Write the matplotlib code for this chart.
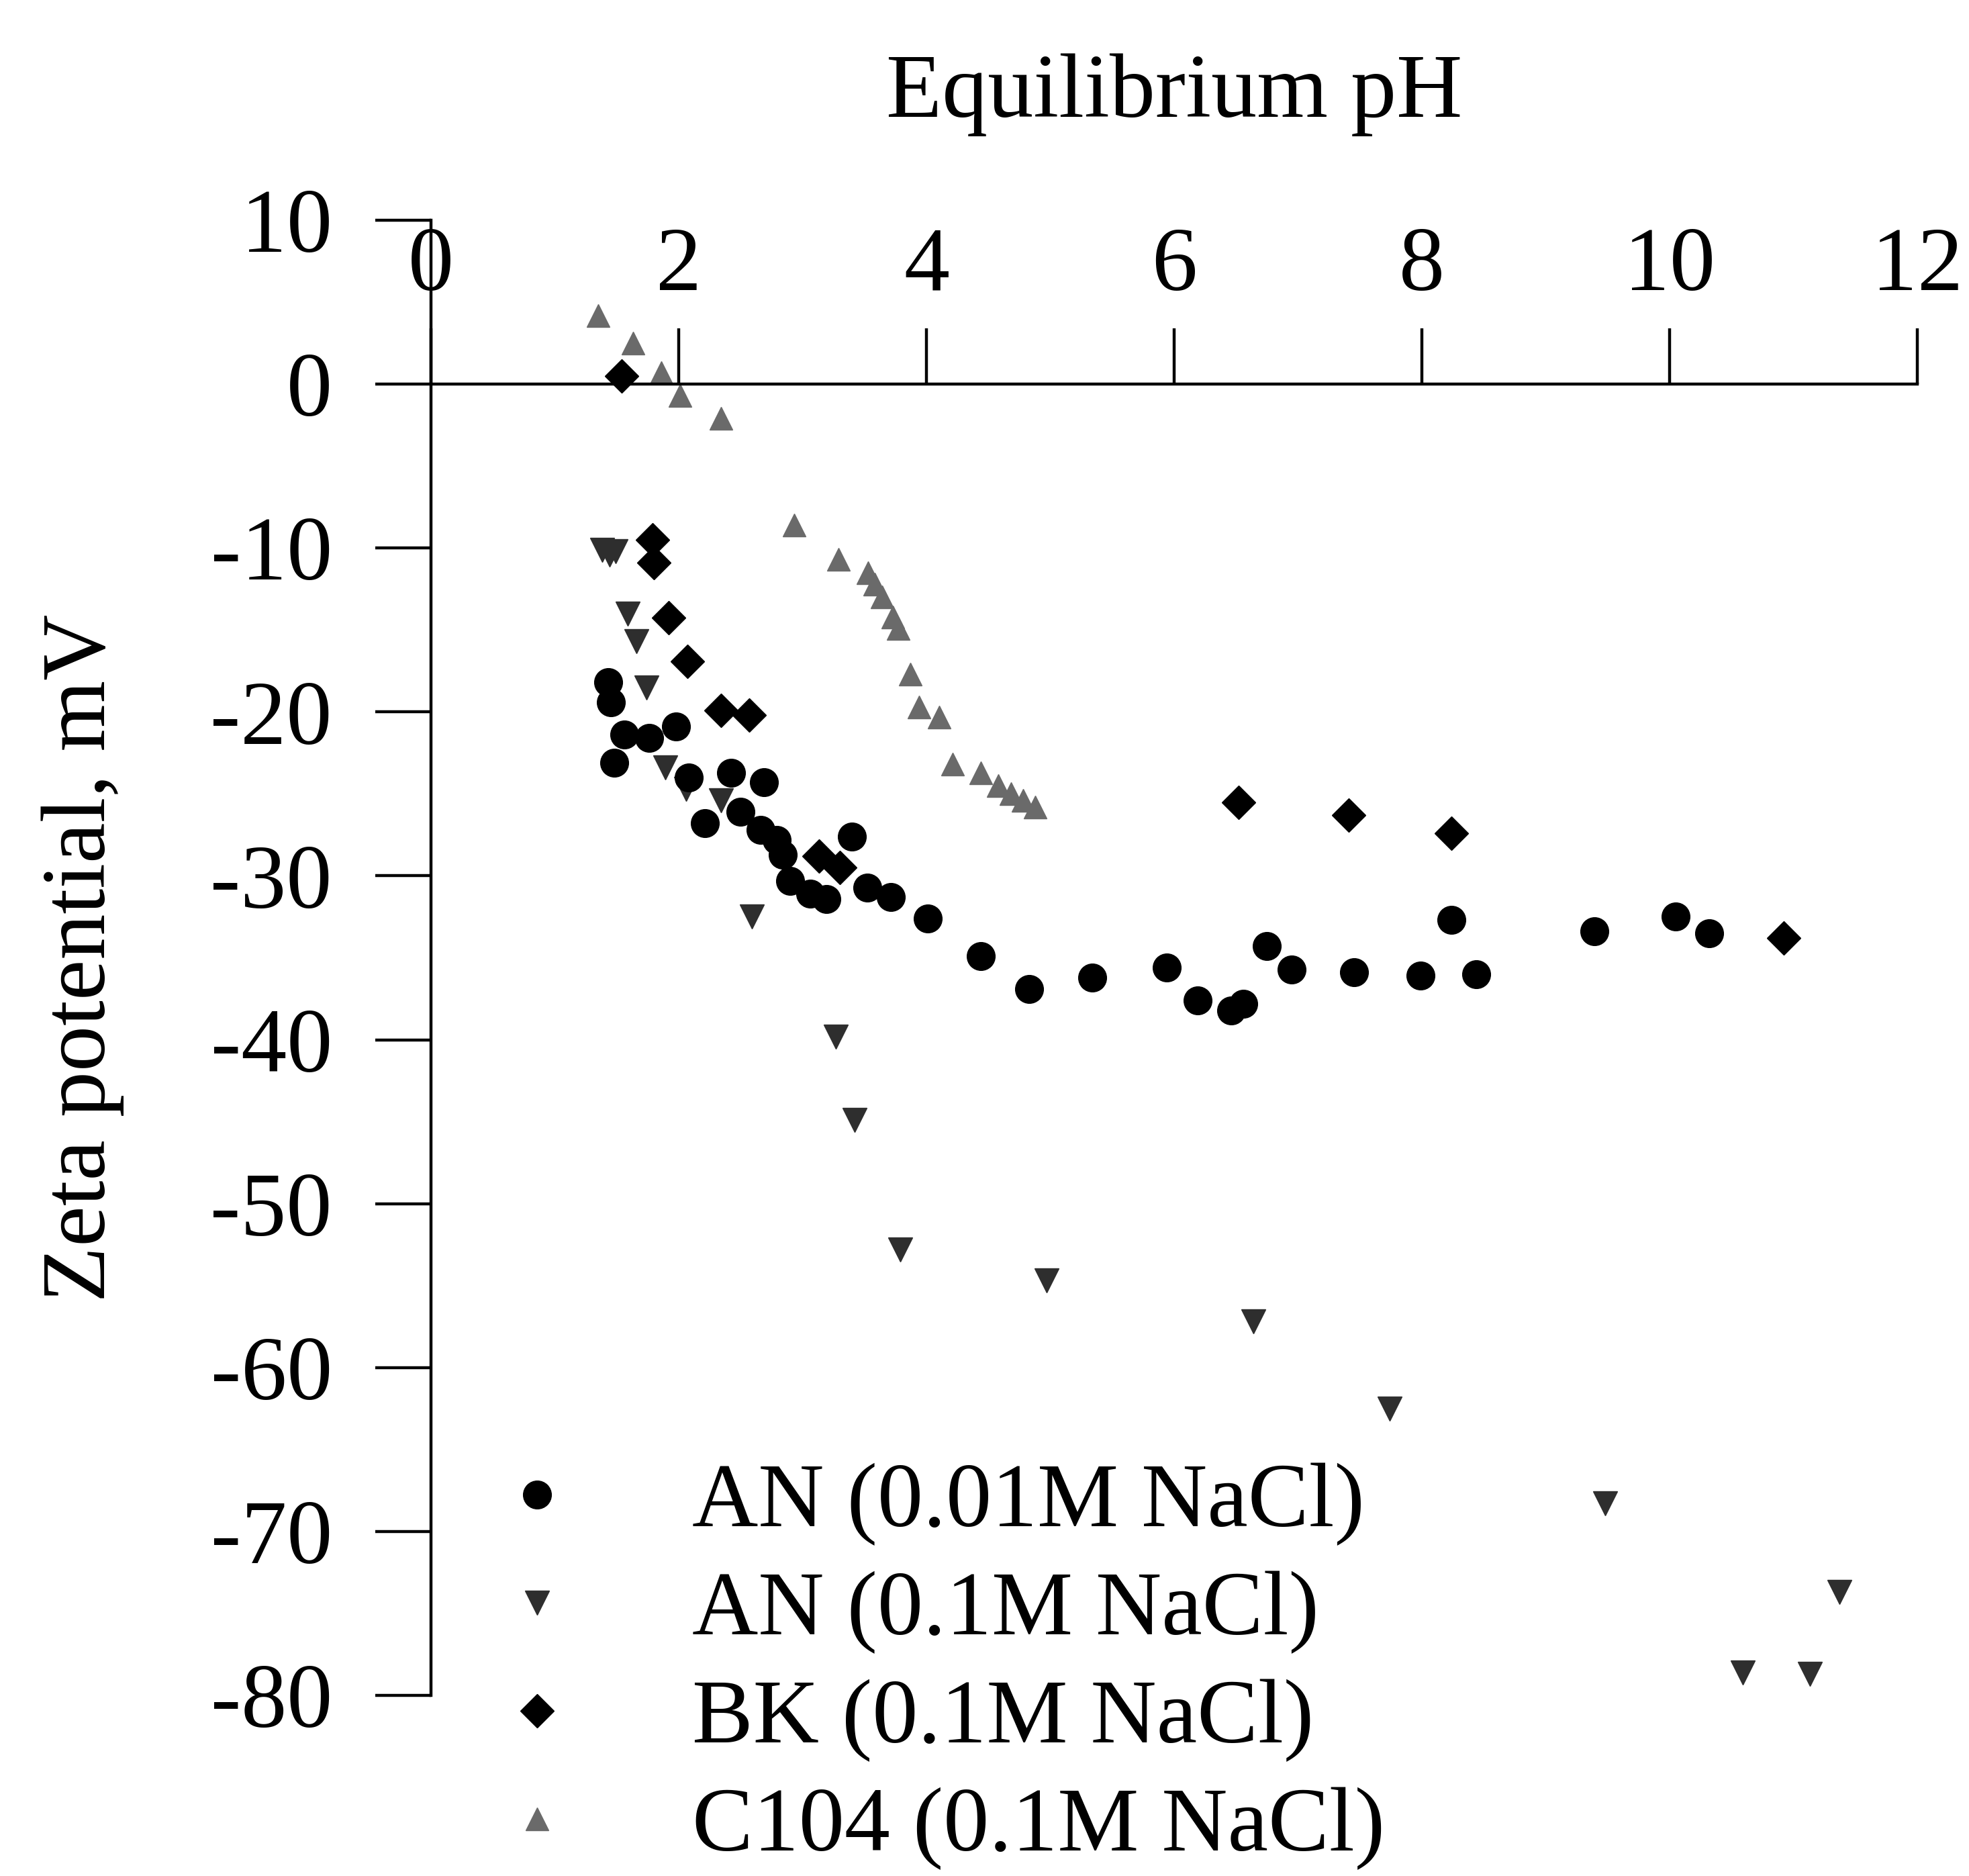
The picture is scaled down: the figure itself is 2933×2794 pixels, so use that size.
import matplotlib
matplotlib.use('Agg')
import matplotlib.pyplot as plt

plt.rcParams['font.family'] = ['Liberation Serif', 'DejaVu Serif']
plt.rcParams['axes.unicode_minus'] = False

# AN (0.01M NaCl) - circles
an001_ph = [1.43, 1.45, 1.48, 1.56, 1.76, 1.98, 2.08, 2.21, 2.42, 2.50, 2.66, 2.69,
            2.79, 2.84, 2.90, 3.06, 3.19, 3.40, 3.52, 3.71, 4.01, 4.44, 4.83, 5.34,
            5.94, 6.19, 6.46, 6.56, 6.75, 6.95, 7.45, 7.99, 8.24, 8.44, 9.39, 10.05, 10.32]
an001_zeta = [-18.2, -19.4, -23.1, -21.4, -21.6, -20.9, -24.0, -26.8, -23.7, -26.1, -27.2, -24.3,
              -27.8, -28.7, -30.3, -31.1, -31.4, -27.6, -30.7, -31.3, -32.6, -34.9, -36.9, -36.2,
              -35.6, -37.6, -38.2, -37.8, -34.3, -35.7, -35.9, -36.1, -32.7, -36.0, -33.4, -32.5, -33.5]

# AN (0.1M NaCl) - down triangles
an01_ph = [1.38, 1.44, 1.49, 1.59, 1.66, 1.74, 1.89, 2.06, 2.34, 2.59, 3.27, 3.42,
           3.79, 4.97, 6.64, 7.74, 9.48, 10.59, 11.13, 11.37]
an01_zeta = [-10.1, -10.4, -10.2, -14.0, -15.7, -18.5, -23.4, -24.7, -25.4, -32.5, -39.8, -44.9,
             -52.8, -54.7, -57.2, -62.5, -68.3, -78.6, -78.7, -73.7]

# BK (0.1M NaCl) - diamonds
bk_ph = [1.54, 1.79, 1.80, 1.92, 2.07, 2.34, 2.57, 3.13, 3.30, 6.52, 7.41, 8.24, 10.92]
bk_zeta = [0.5, -9.5, -10.9, -14.25, -16.9, -19.9, -20.2, -28.8, -29.5, -25.5, -26.3, -27.4, -33.8]

# C104 (0.1M NaCl) - up triangles
c104_ph = [1.35, 1.63, 1.86, 2.01, 2.34, 2.93, 3.29, 3.53, 3.58, 3.64, 3.73, 3.77,
           3.87, 3.94, 4.10, 4.21, 4.44, 4.58, 4.68, 4.78, 4.88]
c104_zeta = [4.2, 2.5, 0.7, -0.7, -2.1, -8.6, -10.7, -11.5, -12.2, -13.0, -14.2, -14.9,
             -17.7, -19.7, -20.3, -23.2, -23.7, -24.5, -25.0, -25.4, -25.8]

labels = ['AN (0.01M NaCl)', 'AN (0.1M NaCl)', 'BK (0.1M NaCl)', 'C104 (0.1M NaCl)']
x_ticks = [0, 2, 4, 6, 8, 10, 12]
y_ticks = [10, 0, -10, -20, -30, -40, -50, -60, -70, -80]

fs = 98
fig = plt.figure(figsize=(29.33, 27.94), dpi=100)
ax = fig.add_axes([0.2189, 0.0963, 0.7549, 0.7863])

h_c104, = ax.plot(c104_ph, c104_zeta, '^', ms=25, color='#6a6a6a', mec='#6a6a6a', clip_on=False)
h_an01, = ax.plot(an01_ph, an01_zeta, 'v', ms=26, color='#2e2e2e', mec='#2e2e2e', clip_on=False)
h_bk, = ax.plot(bk_ph, bk_zeta, 'D', ms=25, color='black', clip_on=False)
h_an001, = ax.plot(an001_ph, an001_zeta, 'o', ms=30, color='black', clip_on=False)

ax.set_xlim(0, 12)
ax.set_ylim(-80, 10)
ax.set_xticks(x_ticks)
ax.set_yticks(y_ticks)

ax.spines['top'].set_position(('data', 0))
ax.spines['right'].set_visible(False)
ax.spines['bottom'].set_visible(False)
for s in ['top', 'left']:
    ax.spines[s].set_linewidth(3.2)
ax.xaxis.set_ticks_position('top')
ax.xaxis.set_label_position('top')
ax.tick_params(axis='both', direction='out', length=60, width=3.2, labelsize=fs)
ax.tick_params(axis='x', pad=20)
ax.tick_params(axis='y', pad=46)

ax.set_xlabel('Equilibrium pH', fontsize=fs)
ax.xaxis.set_label_coords(0.5, 1.070)
ax.set_ylabel('Zeta potential, mV', fontsize=fs)
ax.yaxis.set_label_coords(-0.2064, 0.5)

ax.legend([h_an001, h_an01, h_bk, h_c104], labels, loc='upper left',
          bbox_to_anchor=(0.2356, 0.2205), bbox_transform=fig.transFigure,
          frameon=False, fontsize=fs, handlelength=1.6, handletextpad=0.9,
          labelspacing=0.27, borderpad=0, borderaxespad=0)

fig.savefig('out.png', dpi=100)
